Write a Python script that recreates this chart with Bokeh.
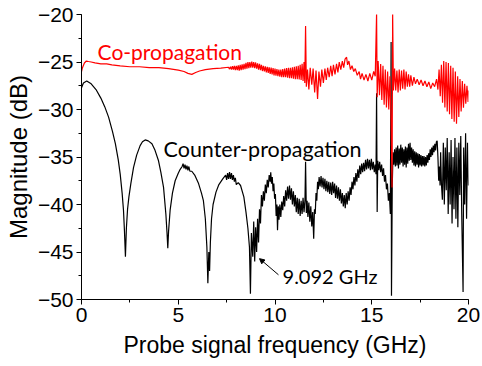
from bokeh.plotting import figure
from bokeh.models import Range1d, SingleIntervalTicker, Arrow, NormalHead, Label
from bokeh.embed import file_html
from bokeh.resources import INLINE

# Counter-propagation (black) trace
counter_x = [0.00, 0.10, 0.27, 0.50, 0.75, 1.00, 1.20, 1.40, 1.60, 1.75, 1.90, 2.00, 2.10, 2.17, 2.22, 2.27,
             2.32, 2.38, 2.45, 2.55, 2.69, 2.85, 3.03, 3.15, 3.29, 3.45, 3.64, 3.80, 3.98, 4.10, 4.24, 4.36,
             4.42, 4.46, 4.50, 4.58, 4.70, 4.84, 5.00, 5.10, 5.20, 5.25, 5.30, 5.35, 5.40, 5.45, 5.50, 5.55,
             5.60, 5.70, 5.85, 6.05, 6.20, 6.30, 6.40, 6.48, 6.53, 6.58, 6.62, 6.66, 6.72, 6.80, 6.95, 7.10,
             7.30, 7.45, 7.50, 7.55, 7.60, 7.65, 7.70, 7.75, 7.80, 7.85, 7.90, 7.95, 8.00, 8.10, 8.22, 8.39,
             8.50, 8.60, 8.68, 8.73, 8.78, 8.85, 8.90, 8.95, 9.00, 9.05, 9.10, 9.15, 9.20, 9.25,
             9.30, 9.35, 9.40, 9.45, 9.50, 9.55, 9.60, 9.65, 9.70, 9.75, 9.78, 9.82, 9.86, 9.90, 9.94, 9.98,
             10.02, 10.06, 10.10, 10.13, 10.17, 10.21, 10.25, 10.30, 10.35, 10.40, 10.45, 10.50, 10.55, 10.60,
             10.65, 10.70, 10.75, 10.80, 10.85, 10.90, 10.95, 11.00, 11.05, 11.10, 11.15, 11.20, 11.25, 11.30,
             11.35, 11.40, 11.45, 11.50, 11.55, 11.58, 11.62, 11.66, 11.70, 11.75, 11.80, 11.85, 11.90, 11.95,
             12.00, 12.04, 12.08, 12.12, 12.16, 12.20, 12.24, 12.28, 12.33, 12.38, 12.43, 12.48, 12.53, 12.58,
             12.63, 12.68, 12.73, 12.78, 12.83, 12.88, 12.93, 12.98, 13.03, 13.08, 13.13, 13.18, 13.23, 13.28,
             13.33, 13.38, 13.43, 13.48, 13.53, 13.58, 13.63, 13.68, 13.73, 13.78, 13.83, 13.88, 13.93, 13.98,
             14.03, 14.08, 14.13, 14.18, 14.23, 14.28, 14.33, 14.38, 14.43, 14.48, 14.53, 14.58, 14.63, 14.68,
             14.73, 14.78, 14.83, 14.88, 14.93, 14.98, 15.03, 15.08, 15.13, 15.18, 15.22, 15.25, 15.28, 15.31,
             15.36, 15.41, 15.46, 15.51, 15.56, 15.61, 15.66, 15.71, 15.76, 15.81, 15.86, 15.91, 15.96, 16.00,
             16.02, 16.06, 16.10, 16.14, 16.18, 16.22, 16.26, 16.30, 16.34, 16.38, 16.42, 16.46, 16.50, 16.54,
             16.58, 16.62, 16.66, 16.70, 16.74, 16.78, 16.82, 16.86, 16.90, 16.94, 16.98, 17.02, 17.06, 17.10,
             17.14, 17.18, 17.22, 17.26, 17.30, 17.34, 17.38, 17.42, 17.46, 17.50, 17.54, 17.58, 17.62, 17.66,
             17.70, 17.74, 17.78, 17.82, 17.86, 17.90, 17.94, 17.98, 18.02, 18.06, 18.10, 18.14, 18.18, 18.22,
             18.26, 18.30, 18.34, 18.38, 18.42, 18.46, 18.50, 18.53, 18.56, 18.60, 18.65, 18.70, 18.75, 18.80,
             18.85, 18.90, 18.95, 19.00, 19.05, 19.10, 19.15, 19.20, 19.25, 19.30, 19.35, 19.40, 19.45, 19.50,
             19.55, 19.60, 19.65, 19.72, 19.75, 19.80, 19.85, 19.90, 19.95, 20.00]
counter_db = [-27.7, -27.2, -27.0, -27.3, -27.9, -28.8, -29.7, -30.8, -32.3, -33.6, -35.3, -36.8, -38.8, -40.6, -42.8, -45.5,
              -42.5, -40.5, -39.2, -37.8, -36.1, -34.8, -33.8, -33.4, -33.2, -33.3, -33.6, -34.3, -35.4, -36.6, -38.2, -41.0,
              -43.0, -44.6, -42.8, -40.6, -38.8, -37.5, -36.7, -36.3, -36.0, -35.7, -36.2, -35.8, -36.3, -35.9, -36.4, -36.0,
              -36.5, -36.5, -36.9, -37.8, -38.8, -39.6, -41.5, -44.5, -48.3, -45.0, -47.0, -44.0, -41.5, -40.0, -38.7, -37.9,
              -37.3, -36.9, -37.4, -36.7, -37.3, -36.6, -37.3, -36.7, -37.4, -36.9, -37.6, -37.2, -37.9, -37.7, -38.0, -39.2,
              -40.8, -42.5, -44.5, -49.4, -43.0, -45.5, -41.8, -46.0, -42.4, -45.0, -41.5, -44.0, -40.5, -42.0,
              -39.0, -40.2, -38.6, -39.6, -37.9, -38.8, -37.4, -38.2, -36.9, -37.6, -36.6, -37.8, -37.1, -38.6, -37.8, -39.4,
              -38.9, -41.2, -40.0, -42.7, -40.2, -41.6, -40.0, -41.3, -39.7, -40.6, -39.1, -40.2, -38.5, -39.6,
              -38.1, -39.4, -38.0, -39.5, -38.3, -40.0, -38.6, -40.2, -39.0, -40.8, -39.3, -41.0, -39.4, -41.2,
              -39.6, -41.0, -39.3, -40.8, -39.5, -35.5, -40.9, -39.6, -41.3, -39.8, -41.8, -40.2, -42.3, -40.8,
              -43.6, -40.5, -41.0, -38.8, -39.6, -37.6, -38.4, -37.1, -38.1, -37.0, -38.2, -37.2, -38.4, -37.3,
              -38.6, -37.5, -38.7, -37.6, -38.9, -37.7, -39.0, -37.6, -38.8, -37.8, -39.3, -38.0, -39.4, -38.2,
              -39.6, -38.4, -39.9, -38.8, -40.2, -39.0, -40.4, -38.8, -40.0, -38.6, -39.6, -38.2, -39.0, -37.6,
              -38.4, -37.1, -38.0, -36.7, -37.6, -36.3, -37.2, -35.9, -36.8, -35.7, -36.6, -35.6, -36.5, -35.3,
              -36.3, -35.2, -36.2, -35.3, -36.4, -35.2, -36.3, -35.5, -36.6, -35.8, -36.8, -28.3, -40.8, -35.4,
              -36.4, -35.5, -36.6, -35.8, -37.0, -36.2, -37.6, -36.9, -38.4, -37.8, -39.6, -38.8, -41.0, -22.9,
              -49.6, -38.0, -34.5, -35.8, -34.2, -36.0, -34.0, -35.9, -33.8, -36.2, -34.1, -35.8, -33.7, -35.6,
              -34.0, -36.0, -34.2, -35.8, -33.9, -36.1, -34.0, -35.7, -33.6, -35.4, -33.5, -35.3, -34.0, -35.6,
              -34.2, -35.9, -34.4, -36.0, -34.5, -35.8, -34.6, -36.1, -34.7, -35.9, -34.8, -36.0, -34.9, -35.9,
              -34.9, -36.0, -35.0, -35.9, -34.8, -35.6, -34.6, -35.3, -34.2, -35.0, -34.0, -34.8, -33.8, -34.5,
              -33.6, -34.3, -33.4, -33.3, -35.0, -37.5, -36.0, -38.0, -34.5, -37.8, -39.5, -33.5, -40.0, -34.0,
              -38.5, -33.0, -41.0, -34.5, -40.0, -33.2, -42.0, -35.0, -40.5, -33.0, -41.5, -34.0, -42.4, -33.5,
              -39.0, -32.8, -41.0, -49.2, -34.0, -40.0, -32.5, -41.5, -33.5, -38.0]

# Co-propagation (red) trace
co_x = [0.00, 0.05, 0.15, 0.25, 0.36, 0.50, 0.70, 1.00, 1.30, 1.57, 2.00, 2.50, 3.00, 3.50, 4.00, 4.50,
        5.00, 5.30, 5.50, 5.70, 5.90, 6.10, 6.40, 6.80, 7.20, 7.60, 7.65, 7.70, 7.75, 7.80, 7.85, 7.90,
        7.95, 8.00, 8.05, 8.10, 8.15, 8.20, 8.25, 8.30, 8.35, 8.40, 8.45, 8.50, 8.55, 8.60, 8.65, 8.70,
        8.75, 8.80, 8.85, 8.90, 8.95, 9.00, 9.05, 9.10, 9.15, 9.20, 9.25, 9.30, 9.35, 9.40, 9.45, 9.50,
        9.55, 9.60, 9.65, 9.70, 9.75, 9.80, 9.85, 9.90, 9.95, 10.00, 10.05, 10.10, 10.15, 10.20, 10.25,
        10.30, 10.35, 10.40, 10.45, 10.50, 10.55, 10.60, 10.65, 10.70, 10.75, 10.80, 10.85, 10.90, 10.95,
        11.00, 11.05, 11.10, 11.15, 11.20, 11.25, 11.30, 11.35, 11.40, 11.45, 11.50, 11.54, 11.58, 11.62,
        11.68, 11.75, 11.82, 11.90, 11.97, 12.05, 12.12, 12.20, 12.27, 12.35, 12.42, 12.50, 12.58, 12.65,
        12.72, 12.80, 12.88, 12.95, 13.02, 13.10, 13.18, 13.25, 13.32, 13.40, 13.48, 13.55, 13.62, 13.70,
        13.75, 13.82, 13.90, 13.98, 14.07, 14.15, 14.25, 14.35, 14.42, 14.50, 14.60, 14.70, 14.80, 14.90,
        15.00, 15.10, 15.18, 15.25, 15.28, 15.33, 15.40, 15.46, 15.52, 15.58, 15.64, 15.70, 15.76, 15.82,
        15.88, 15.94, 16.00, 16.05, 16.08, 16.12, 16.18, 16.24, 16.30, 16.36, 16.42, 16.48, 16.54, 16.60,
        16.66, 16.72, 16.78, 16.84, 16.90, 16.96, 17.02, 17.10, 17.18, 17.26, 17.35, 17.45, 17.55, 17.65,
        17.75, 17.85, 17.95, 18.05, 18.15, 18.25, 18.35, 18.42, 18.48, 18.54, 18.60, 18.66, 18.72, 18.78,
        18.84, 18.90, 18.96, 19.02, 19.08, 19.14, 19.20, 19.26, 19.32, 19.38, 19.44, 19.50, 19.56, 19.62,
        19.68, 19.74, 19.80, 19.86, 19.92, 19.98, 20.00]
co_db = [-26.0, -25.6, -25.1, -24.9, -24.95, -25.0, -25.1, -25.2, -25.2, -25.3, -25.4, -25.5, -25.5, -25.6, -25.6, -25.7,
         -25.85, -26.0, -26.2, -26.3, -26.1, -25.95, -25.8, -25.7, -25.65, -25.55, -25.75, -25.5, -25.8, -25.45, -25.8, -25.4,
         -25.85, -25.4, -25.85, -25.35, -25.9, -25.3, -25.85, -25.25, -25.8, -25.2, -25.75, -25.1, -25.7, -25.0, -25.65, -25.0,
         -25.6, -24.95, -25.6, -25.0, -25.65, -25.05, -25.7, -25.15, -25.8, -25.2, -25.85, -25.3, -25.95, -25.4, -26.0, -25.45,
         -26.1, -25.5, -26.15, -25.55, -26.25, -25.6, -26.3, -25.65, -26.4, -25.7, -26.45, -25.75, -26.5, -25.8, -26.55,
         -25.8, -26.6, -25.75, -26.6, -25.7, -26.6, -25.65, -26.65, -25.6, -26.7, -25.6, -26.7, -25.55, -26.75,
         -25.5, -26.8, -25.45, -26.8, -25.4, -26.85, -25.3, -26.9, -25.2, -27.0, -25.0, -27.2, -21.2, -27.6,
         -25.8, -27.9, -25.6, -27.4, -25.7, -28.2, -25.9, -28.9, -26.0, -27.6, -25.8, -27.2, -25.7, -26.9,
         -25.6, -26.6, -25.4, -26.5, -25.3, -26.3, -25.2, -26.1, -25.0, -25.8, -24.9, -25.6, -24.7, -24.5,
         -25.3, -24.9, -25.8, -25.4, -26.0, -25.7, -26.4, -26.0, -26.8, -26.2, -26.9, -26.3, -27.0, -26.2,
         -26.9, -26.0, -26.5, -19.9, -28.7, -24.9, -28.5, -25.2, -29.0, -25.4, -29.5, -25.8, -29.8, -26.0,
         -30.0, -26.5, -31.0, -38.2, -19.9, -28.0, -25.7, -28.0, -25.9, -28.2, -25.8, -28.0, -25.9, -27.8,
         -25.8, -27.9, -26.0, -27.6, -26.3, -27.6, -26.4, -27.5, -26.6, -27.3, -26.8, -27.4, -26.9, -27.5,
         -27.0, -27.6, -27.1, -27.8, -27.2, -27.6, -26.8, -27.9, -25.8, -28.6, -25.3, -29.3, -24.9, -29.8,
         -25.0, -30.2, -25.1, -30.5, -25.4, -31.0, -25.6, -31.3, -26.0, -31.5, -26.5, -30.8, -26.8, -30.2,
         -27.0, -29.8, -27.3, -29.4, -27.5, -29.2, -28.0]

x_ticks_interval = 5
y_ticks_interval = 5

p = figure(width=482, height=366, x_range=Range1d(0, 20), y_range=Range1d(-50, -20),
           output_backend="svg", toolbar_location=None,
           min_border_left=81, min_border_right=14, min_border_top=14, min_border_bottom=67)

p.line(counter_x, counter_db, line_color="black", line_width=1.2)
p.line(co_x, co_db, line_color="#ff0000", line_width=1.2)

p.xaxis.ticker = SingleIntervalTicker(interval=x_ticks_interval, num_minor_ticks=2)
p.yaxis.ticker = SingleIntervalTicker(interval=y_ticks_interval, num_minor_ticks=2)
for ax in (p.xaxis[0], p.yaxis[0]):
    ax.axis_line_color = "black"
    ax.axis_line_width = 1
    ax.major_tick_out = 5
    ax.major_tick_in = 0
    ax.minor_tick_out = 3
    ax.minor_tick_in = 0
    ax.major_tick_line_color = "black"
    ax.minor_tick_line_color = "black"
    ax.major_label_text_font = "Liberation Sans"
    ax.major_label_text_font_size = "21px"
    ax.major_label_text_color = "black"
    ax.axis_label_text_font = "Liberation Sans"
    ax.axis_label_text_font_style = "normal"
    ax.axis_label_text_color = "black"
    ax.major_label_standoff = 3

p.xaxis.axis_label = "Probe signal frequency (GHz)"
p.yaxis.axis_label = "Magnitude (dB)"
p.xaxis.axis_label_text_font_size = "23px"
p.yaxis.axis_label_text_font_size = "24px"
p.xaxis.axis_label_standoff = 7
p.yaxis.axis_label_standoff = 3

p.xgrid.visible = False
p.ygrid.visible = False
p.outline_line_color = None
p.background_fill_color = "white"
p.border_fill_color = "white"

p.add_layout(Label(x=0.83, y=-23.9, text="Co-propagation", text_color="#ff0000",
                   text_font="Lato", text_font_size="21px", text_baseline="alphabetic"))
p.add_layout(Label(x=4.24, y=-34.2, text="Counter-propagation", text_color="black",
                   text_font="Lato", text_font_size="21.5px", text_baseline="alphabetic"))
p.add_layout(Label(x=10.39, y=-47.55, text="9.092 GHz", text_color="black",
                   text_font="Lato", text_font_size="20px", text_baseline="alphabetic"))
p.add_layout(Arrow(end=NormalHead(size=5, fill_color="black", line_color="black", line_width=1),
                   x_start=10.18, y_start=-47.4, x_end=9.2, y_end=-45.7,
                   line_color="black", line_width=1))

open("out.html", "w").write(file_html(p, INLINE))
